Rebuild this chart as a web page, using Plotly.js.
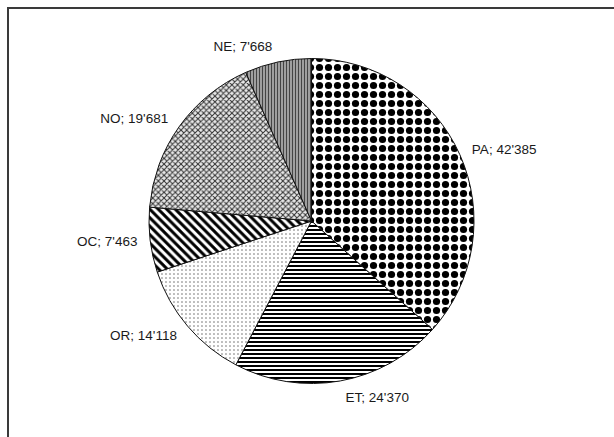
<!DOCTYPE html>
<html>
<head>
<meta charset="utf-8">
<script src="https://cdn.plot.ly/plotly-3.0.1.min.js"></script>
<style>html,body{margin:0;padding:0;background:#fff;}#chart{width:614px;height:437px;}</style>
</head>
<body>
<div id="chart"></div>
<script>
var categories = ["PA", "ET", "OR", "OC", "NO", "NE"];
var values = [42385, 24370, 14118, 7463, 19681, 7668];

var patternShapes = [".", "-", ".", "\\", "x", "|"];
var patternSizes = [9, 4, 4, 6, 4, 3];
var patternSolidity = [0.5, 0.5, 0.12, 0.5, 0.45, 0.5];
var patternFg = ["#000000", "#000000", "#666666", "#000000", "#333333", "#444444"];
var patternBg = ["#ffffff", "#ffffff", "#ffffff", "#ffffff", "#e8e8e8", "#bdbdbd"];

var W = 614, H = 437;
var cx = 311.5, cy = 221, r = 162.5, labelGap = 9;

function dom(rad) {
  return {
    x: [(cx - rad) / W, (cx + rad) / W],
    y: [1 - (cy + rad) / H, 1 - (cy - rad) / H]
  };
}

var font = {family: "Liberation Sans, Arial, sans-serif", size: 13.5, color: "#1a1a1a"};

// label carrier: same data, transparent, slightly larger so labels sit a bit off the rim
var labelTrace = {
  type: "pie",
  labels: categories,
  values: values,
  sort: false,
  direction: "clockwise",
  rotation: 0,
  textposition: "outside",
  texttemplate: "%{label}; %{value:,}",
  hoverinfo: "none",
  automargin: false,
  showlegend: false,
  domain: dom(r + labelGap),
  outsidetextfont: font,
  marker: {colors: categories.map(function(){return "rgba(0,0,0,0)";}), line: {width: 0}}
};

var trace = {
  type: "pie",
  labels: categories,
  values: values,
  sort: false,
  direction: "clockwise",
  rotation: 0,
  textinfo: "none",
  hoverinfo: "none",
  automargin: false,
  showlegend: false,
  domain: dom(r),
  marker: {
    colors: patternBg,
    line: {color: "#111", width: 1},
    pattern: {
      shape: patternShapes,
      size: patternSizes,
      solidity: patternSolidity,
      fgcolor: patternFg,
      bgcolor: patternBg,
      fillmode: "replace"
    }
  }
};

var layout = {
  width: W,
  height: H,
  margin: {l: 0, r: 0, t: 0, b: 0},
  paper_bgcolor: "#ffffff",
  separators: ".'",
  font: font,
  shapes: [{
    type: "rect", xref: "paper", yref: "paper",
    x0: 8/W, x1: 1.05, y0: -0.05, y1: 1 - 8/H,
    line: {color: "#3a3a3a", width: 2}
  }]
};

Plotly.newPlot("chart", [labelTrace, trace], layout, {staticPlot: true, displayModeBar: false});
</script>
</body>
</html>
